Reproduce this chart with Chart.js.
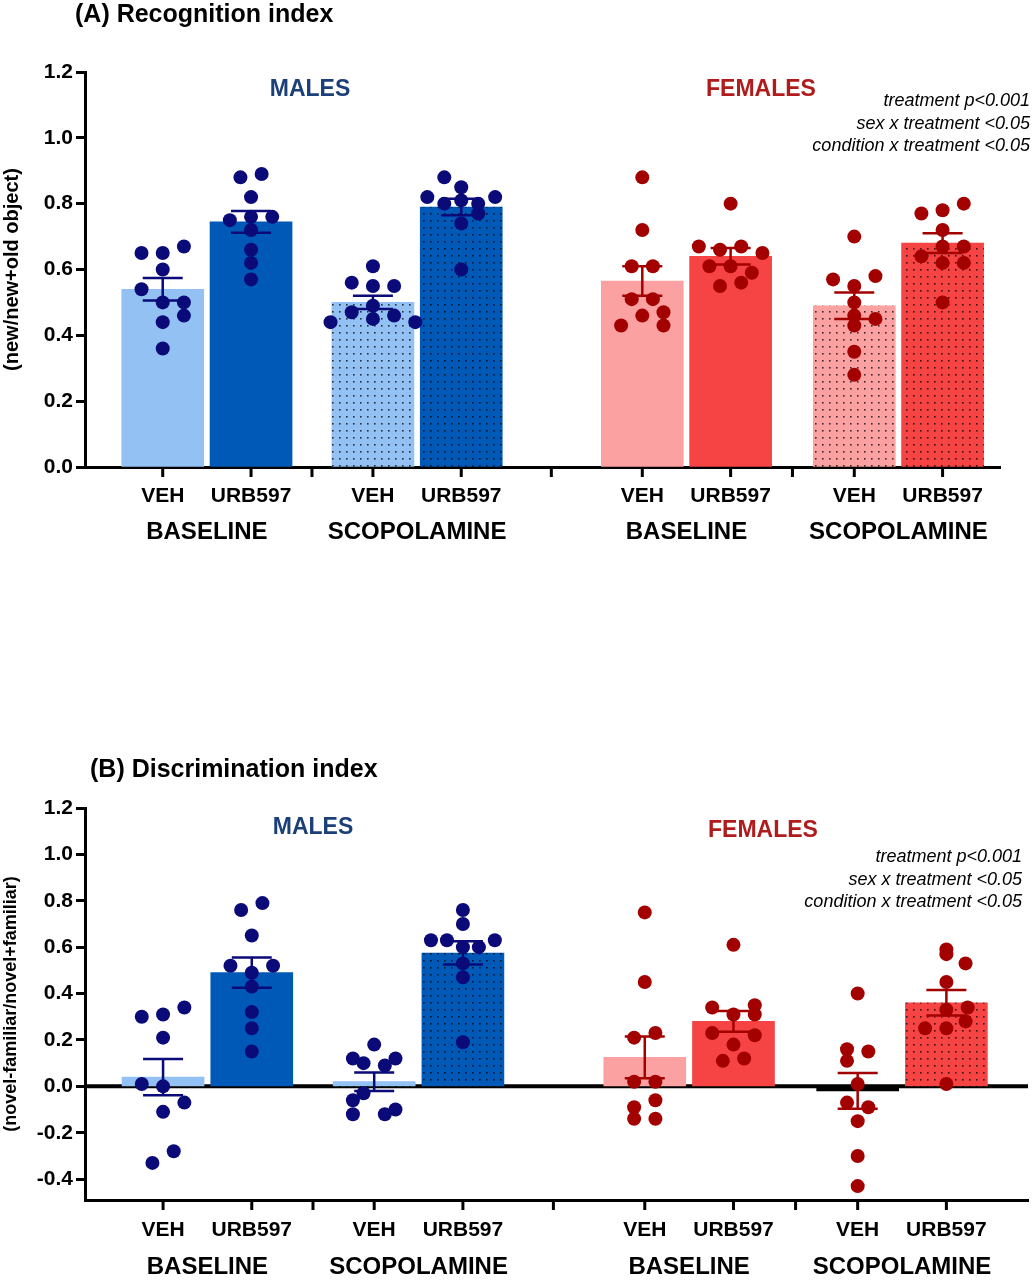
<!DOCTYPE html>
<html><head><meta charset="utf-8">
<script src="https://cdn.jsdelivr.net/npm/chart.js@4/dist/chart.umd.min.js"></script>
<style>
body{margin:0;background:#fff;width:1035px;height:1280px;overflow:hidden}
.p{position:absolute;left:0;width:1035px}
</style></head><body>
<div class="p" style="top:0;height:560px"><canvas id="cA"></canvas></div>
<div class="p" style="top:740px;height:540px"><canvas id="cB"></canvas></div>
<script>
// ---- data ----
const groups = ["M-BASE-VEH","M-BASE-URB","M-SCOP-VEH","M-SCOP-URB","F-BASE-VEH","F-BASE-URB","F-SCOP-VEH","F-SCOP-URB"];
const treatLabels = ["VEH","URB597","VEH","URB597","VEH","URB597","VEH","URB597"];
const condLabels = ["BASELINE","SCOPOLAMINE","BASELINE","SCOPOLAMINE"];
const yTicksA = [0,0.2,0.4,0.6,0.8,1.0,1.2];
const yTicksB = [-0.4,-0.2,0,0.2,0.4,0.6,0.8,1.0,1.2];
const statsText = ["treatment p<0.001","sex x treatment <0.05","condition x treatment <0.05"];

const meansA = [0.54,0.745,0.50,0.79,0.565,0.64,0.49,0.68];
const semA   = [0.034,0.033,0.02,0.025,0.045,0.025,0.04,0.03];
const pointsA = [
 [0.65,0.65,0.67,0.60,0.54,0.50,0.50,0.46,0.44,0.36],
 [0.88,0.89,0.82,0.75,0.76,0.76,0.72,0.66,0.62,0.57],
 [0.61,0.56,0.55,0.55,0.49,0.47,0.46,0.45,0.44,0.44],
 [0.88,0.82,0.85,0.80,0.81,0.80,0.82,0.77,0.74,0.60],
 [0.88,0.72,0.61,0.61,0.51,0.51,0.46,0.47,0.43,0.43],
 [0.80,0.67,0.66,0.67,0.65,0.61,0.61,0.59,0.55,0.56],
 [0.70,0.57,0.58,0.55,0.50,0.46,0.45,0.43,0.35,0.28],
 [0.77,0.78,0.80,0.72,0.67,0.67,0.64,0.62,0.62,0.50]];
const jitterA = [
 [-1,0,1,0,-1,0,1,1,0,0],
 [-0.5,0.5,0,-1,0,1,0,0,0,0],
 [0,-1,1,0,0,-1,1,0,-2,2],
 [-0.8,-1.6,0,-0.8,0,0.8,1.6,0.8,0,0],
 [0,0,-0.5,0.5,-0.5,0.5,0,1,-1,1],
 [0,-1.5,-0.5,0.5,1.5,-1,0,1,-0.5,0.5],
 [0,-1,1,0,0,0,1,0,0,0],
 [-1,0,1,0,0,1,-1,0,1,0]];

const meansB = [0.04,0.49,0.02,0.575,0.125,0.28,-0.02,0.36];
const semB   = [0.078,0.065,0.04,0.05,0.09,0.045,0.077,0.055];
const pointsB = [
 [0.30,0.31,0.34,0.21,0.01,0.00,-0.07,-0.11,-0.28,-0.33],
 [0.76,0.79,0.65,0.52,0.52,0.49,0.43,0.32,0.25,0.15],
 [0.18,0.12,0.10,0.09,0.12,-0.03,-0.06,-0.12,-0.12,-0.10],
 [0.76,0.70,0.63,0.63,0.63,0.60,0.60,0.53,0.47,0.19],
 [0.75,0.45,0.21,0.23,0.02,0.02,-0.06,-0.09,-0.14,-0.14],
 [0.61,0.34,0.31,0.35,0.31,0.23,0.22,0.18,0.11,0.12],
 [0.40,0.16,0.15,0.11,0.01,-0.07,-0.09,-0.15,-0.30,-0.43],
 [0.59,0.53,0.57,0.45,0.34,0.33,0.28,0.25,0.25,0.01]];
const jitterB = [
 [-1,0,1,0,-1,0,1,0,0.5,-0.5],
 [-0.5,0.5,0,-1,1,0,0,0,0,0],
 [0,-1,-0.5,0.5,1,-0.5,-1,-1,0.5,1],
 [0,0,-1.5,-0.75,1.5,0,0.75,0,0,0],
 [0,0,-0.5,0.5,-0.5,0.5,0.5,-0.5,-0.5,0.5],
 [0,-1,0,1,1,-1,1,0,-0.5,0.5],
 [0,-0.5,0.5,-0.5,0,-0.5,0.5,0,0,0],
 [0,0.9,0,0,1,0,0.9,-1,0,0]];

// ---- layout / style ----
const xPos = [1,2,3.38,4.38,6.43,7.43,8.83,9.83];
const sepPos = [2.69,5.4,8.13];
const JIT = 0.24;
const barCol = ["#93c1f4","#0058b7","#93c1f4","#0058b7","#fca1a1","#f64343","#fca1a1","#f64343"];
const dotCol = ["#0a0a78","#0a0a78","#0a0a78","#0a0a78","#a30000","#a30000","#a30000","#a30000"];
const dotted = [false,false,true,true,false,false,true,true];

function dotPattern(base){
  const c=document.createElement('canvas');c.width=7;c.height=7;
  const g=c.getContext('2d');g.fillStyle=base;g.fillRect(0,0,7,7);
  g.fillStyle='rgba(0,0,0,0.75)';g.fillRect(3,3,1.6,1.6);
  return g.createPattern(c,'repeat');
}

function makePanel(id, o){
  const datasets=[];
  groups.forEach((g,i)=>{
    const neg=o.means[i]<0;
    datasets.push({type:'bar',label:g,data:[{x:xPos[i],y:o.means[i]}],
      backgroundColor:neg?'#000':(dotted[i]?dotPattern(barCol[i]):barCol[i]),barThickness:82,grouped:false,order:2});
  });
  groups.forEach((g,i)=>{
    datasets.push({type:'scatter',label:g+' pts',
      data:o.points[i].map((v,k)=>({x:xPos[i]+o.jit[i][k]*JIT,y:v})),
      backgroundColor:dotCol[i],borderWidth:0,pointRadius:7,order:0});
  });
  const deco={id:'deco',
    beforeDatasetsDraw(ch){
      const {ctx}=ch,x=ch.scales.x,y=ch.scales.y;
      if(o.zero){ctx.save();ctx.strokeStyle='#000';ctx.lineWidth=4;ctx.beginPath();
        ctx.moveTo(x.left,y.getPixelForValue(0));ctx.lineTo(x.right,y.getPixelForValue(0));ctx.stroke();ctx.restore();}
    },
    afterDatasetsDraw(ch){
      const {ctx}=ch,x=ch.scales.x,y=ch.scales.y;
      ctx.save();
      groups.forEach((g,i)=>{
        const cx=x.getPixelForValue(xPos[i]);
        const t=y.getPixelForValue(o.means[i]+o.sem[i]), b=y.getPixelForValue(o.means[i]-o.sem[i]);
        ctx.strokeStyle=dotCol[i];ctx.lineWidth=2.5;ctx.beginPath();
        ctx.moveTo(cx,t);ctx.lineTo(cx,b);
        ctx.moveTo(cx-20,t);ctx.lineTo(cx+20,t);
        ctx.moveTo(cx-20,b);ctx.lineTo(cx+20,b);ctx.stroke();
      });
      const base=y.bottom;
      ctx.strokeStyle='#000';ctx.lineWidth=3;ctx.beginPath();
      xPos.concat(sepPos).forEach(v=>{const px=x.getPixelForValue(v);ctx.moveTo(px,base);ctx.lineTo(px,base+10);});
      ctx.stroke();
      ctx.fillStyle='#000';ctx.textAlign='center';ctx.textBaseline='middle';
      ctx.font='bold 21px Arial, "Liberation Sans"';
      treatLabels.forEach((t,i)=>ctx.fillText(t,x.getPixelForValue(xPos[i]),base+o.l1));
      ctx.font='bold 24px Arial, "Liberation Sans"';
      condLabels.forEach((t,j)=>ctx.fillText(t,(x.getPixelForValue(xPos[2*j])+x.getPixelForValue(xPos[2*j+1]))/2,base+o.l2));
      ctx.font='bold 23px Arial, "Liberation Sans"';
      ctx.fillStyle='#1b3f78';ctx.fillText('MALES',o.males[0],o.males[1]);
      ctx.fillStyle='#b01b1b';ctx.fillText('FEMALES',o.fem[0],o.fem[1]);
      ctx.fillStyle='#000';ctx.textAlign='left';
      ctx.font='bold 25px Arial, "Liberation Sans"';
      ctx.fillText(o.title,o.tpos[0],o.tpos[1]);
      ctx.textAlign='right';ctx.font='italic 18px Arial, "Liberation Sans"';
      statsText.forEach((s,k)=>ctx.fillText(s,o.spos[0],o.spos[1]+k*22.5));
      ctx.restore();
    }};
  new Chart(document.getElementById(id),{
    data:{datasets},
    options:{responsive:true,maintainAspectRatio:false,animation:false,
      layout:{padding:o.pad},
      plugins:{legend:{display:false},tooltip:{enabled:false}},
      scales:{
        x:{type:'linear',min:o.xmin,max:o.xmax,offset:false,
          grid:{display:false},ticks:{display:false},
          border:{display:true,color:'#000',width:3},
          afterFit(s){s.height=0;}},
        y:{min:o.ymin,max:1.2,
          afterBuildTicks(s){s.ticks=o.yt.map(v=>({value:v}));},
          afterFit(s){s.width=o.yw;},
          grid:{display:true,drawOnChartArea:false,drawTicks:true,tickLength:9,tickWidth:3,tickColor:'#000'},
          border:{display:true,color:'#000',width:3},
          ticks:{color:'#000',font:{family:'Arial, "Liberation Sans"',weight:'bold',size:21},padding:3,
            callback:v=>v.toFixed(1)},
          title:{display:true,text:o.ytitle,color:'#000',padding:0,
            font:{family:'Arial, "Liberation Sans"',weight:'bold',size:o.ytsize}}}
      }},
    plugins:[deco]
  });
}

makePanel('cA',{means:meansA,sem:semA,points:pointsA,jit:jitterA,yt:yTicksA,ymin:0,
  pad:{top:72,left:0,right:35,bottom:93},yw:85,xmin:0.12,xmax:10.48,
  ytitle:'(new/new+old object)',ytsize:20,zero:false,l1:29,l2:65,
  males:[310,90],fem:[761,90],title:'(A) Recognition index',tpos:[75,15],spos:[1030,101]});
makePanel('cB',{means:meansB,sem:semB,points:pointsB,jit:jitterB,yt:yTicksB,ymin:-0.49,
  pad:{top:68,left:0,right:0,bottom:80},yw:85,xmin:0.12,xmax:10.75,
  ytitle:'(novel-familiar/novel+familiar)',ytsize:18,zero:true,l1:30,l2:67,
  males:[313,88],fem:[763,91],title:'(B) Discrimination index',tpos:[90,30],spos:[1022,117]});
</script></body></html>
